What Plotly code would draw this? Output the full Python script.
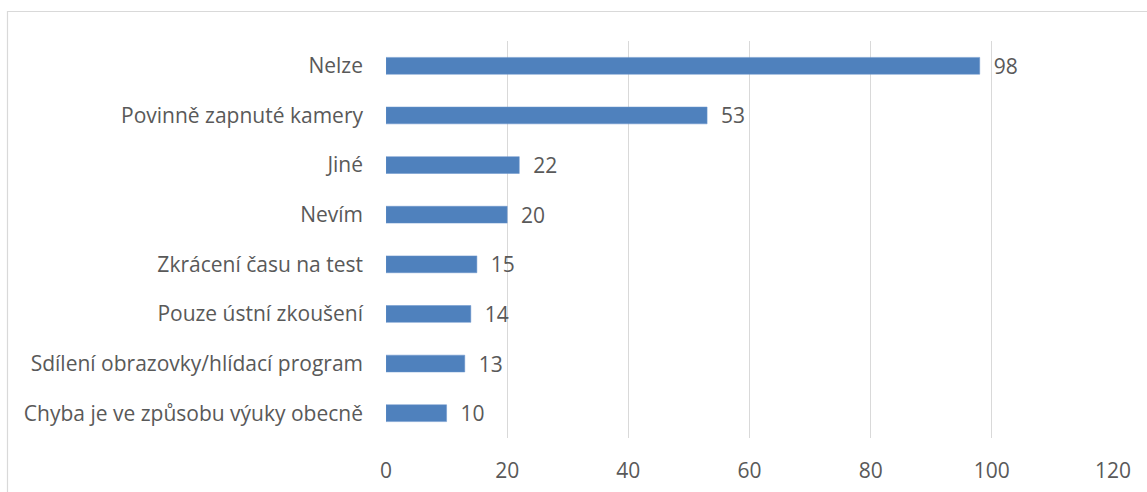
import plotly.graph_objects as go

categories = ["Nelze", "Povinně zapnuté kamery", "Jiné", "Nevím",
              "Zkrácení času na test", "Pouze ústní zkoušení",
              "Sdílení obrazovky/hlídací program", "Chyba je ve způsobu výuky obecně"]
values = [98, 53, 22, 20, 15, 14, 13, 10]
x_ticks = [0, 20, 40, 60, 80, 100, 120]

W, H = 1147, 492
L, R, T, B = 386, 34, 41, 54
pw, ph = W - L - R, H - T - B

FONT = "Open Sans"
TXT = "#595959"
FS = 21

fig = go.Figure(go.Bar(
    y=categories, x=values, orientation="h",
    marker=dict(color="#4F81BD", line=dict(color="#6A95CC", width=0.5)),
    text=values, texttemplate="\u00a0\u00a0%{x}", textposition="outside",
    constraintext="none",
    textfont=dict(family=FONT, size=FS, color=TXT),
    cliponaxis=False, width=0.34,
))

# outer chart border (pixel positions converted to paper coords)
def px_x(p):
    return (p - L) / pw

def px_y(p):
    return (H - B - p) / ph

fig.add_shape(type="rect", xref="paper", yref="paper",
              x0=px_x(7.5), x1=px_x(1160), y0=px_y(500), y1=px_y(11.5),
              line=dict(color="#D9D9D9", width=1.2), fillcolor="rgba(0,0,0,0)", layer="below")

fig.update_layout(
    width=W, height=H,
    margin=dict(l=L, r=R, t=T, b=B, autoexpand=False),
    paper_bgcolor="white", plot_bgcolor="white",
    showlegend=False,
    font=dict(family=FONT, size=FS, color=TXT),
    xaxis=dict(range=[0, 120], tickvals=x_ticks, showgrid=True, gridcolor="#D9D9D9",
               gridwidth=1.3, zeroline=False, showline=False, ticks="",
               ticklabelstandoff=18, tickfont=dict(family=FONT, size=FS, color=TXT),
               fixedrange=True),
    yaxis=dict(categoryorder="array", categoryarray=categories[::-1], showgrid=False,
               zeroline=False, showline=False, ticks="", ticklabelstandoff=22,
               tickfont=dict(family=FONT, size=FS, color=TXT), fixedrange=True),
)

fig.write_html("out.html")
